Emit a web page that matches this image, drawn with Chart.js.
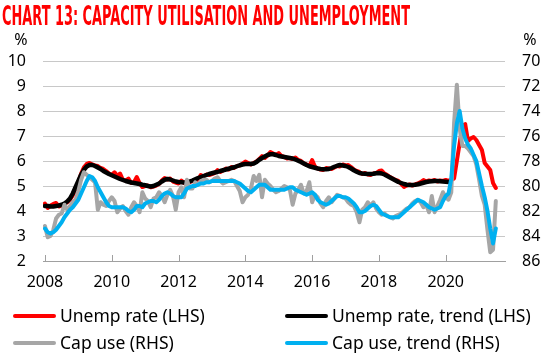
<!DOCTYPE html>
<html>
<head>
<meta charset="utf-8">
<script src="https://cdn.jsdelivr.net/npm/chart.js@4.4.1/dist/chart.umd.min.js"></script>
<style>
  html, body { margin: 0; padding: 0; background: #fff; }
  #wrap { position: relative; width: 550px; height: 354px; overflow: hidden; font-family: "Noto Sans", sans-serif; color: #000; }
  #chart { position: absolute; left: 0; top: 0; }
  #title { position: absolute; left: 2px; top: 2px; font-family: "DejaVu Sans Condensed", "DejaVu Sans", sans-serif; font-weight: bold; font-size: 27px; line-height: 27px; color: #ff0000; white-space: nowrap; transform-origin: 0 0; }
  .pct { position: absolute; top: 31px; width: 30px; text-align: center; font-size: 16px; line-height: 16px; }
  .swatch { position: absolute; width: 43px; height: 4px; border-radius: 2px; }
  .legtext { position: absolute; font-size: 17.5px; line-height: 20px; white-space: nowrap; }
</style>
</head>
<body>
<div id="wrap">
  <canvas id="chart" width="550" height="354"></canvas>
  <div id="title">CHART 13: CAPACITY UTILISATION AND UNEMPLOYMENT</div>
  <div class="pct" style="left:6px">%</div>
  <div class="pct" style="left:515px">%</div>
  <div id="legend"></div>
</div>
<script>
// monthly points, index 0 sits on the 2008 tick
const yearLabels = ["2008", "2010", "2012", "2014", "2016", "2018", "2020"];
const yearTickIndex = [0, 24, 48, 72, 96, 120, 144];

const unempRate = [
  4.30, 4.12, 4.22, 4.28, 4.32, 4.18, 4.22, 4.28, 4.35, 4.45, 4.62, 4.85,
  5.15, 5.50, 5.75, 5.88, 5.92, 5.86, 5.82, 5.80, 5.72, 5.68, 5.60, 5.50,
  5.45, 5.55, 5.40, 5.50, 5.25, 5.22, 5.30, 5.12, 5.15, 5.36, 5.12, 4.96,
  5.00, 5.02, 4.95, 4.98, 5.02, 5.08, 5.22, 5.32, 5.26, 5.30, 5.18, 5.14,
  5.10, 5.22, 5.12, 5.08, 5.15, 5.20, 5.24, 5.22, 5.44, 5.38, 5.46, 5.44,
  5.48, 5.52, 5.64, 5.56, 5.62, 5.70, 5.66, 5.76, 5.72, 5.80, 5.82, 5.90,
  5.98, 5.92, 5.86, 5.92, 5.98, 6.08, 6.20, 6.12, 6.22, 6.36, 6.30, 6.24,
  6.32, 6.20, 6.16, 6.10, 6.12, 6.08, 6.14, 6.04, 6.00, 5.90, 5.86, 5.80,
  6.04, 5.78, 5.70, 5.66, 5.64, 5.72, 5.70, 5.68, 5.74, 5.80, 5.78, 5.86,
  5.82, 5.84, 5.76, 5.66, 5.60, 5.56, 5.48, 5.52, 5.46, 5.44, 5.50, 5.52,
  5.60, 5.62, 5.50, 5.44, 5.36, 5.30, 5.24, 5.20, 5.08, 4.96, 5.02, 5.06,
  5.02, 5.06, 5.10, 5.16, 5.24, 5.18, 5.22, 5.20, 5.24, 5.18, 5.22, 5.20,
  5.24, 5.20, 5.24, 5.30, 6.00, 6.70, 7.40, 7.48, 6.80, 6.90, 6.96, 6.84,
  6.64, 6.44, 5.92, 5.78, 5.64, 5.12, 4.92
];

const unempTrend = [
  4.20, 4.20, 4.18, 4.18, 4.20, 4.22, 4.25, 4.30, 4.38, 4.50, 4.70, 4.95,
  5.20, 5.45, 5.65, 5.78, 5.84, 5.84, 5.80, 5.74, 5.68, 5.60, 5.54, 5.48,
  5.43, 5.38, 5.33, 5.28, 5.24, 5.20, 5.17, 5.14, 5.12, 5.10, 5.08, 5.05,
  5.03, 5.00, 4.98, 5.00, 5.05, 5.10, 5.18, 5.25, 5.28, 5.26, 5.22, 5.18,
  5.16, 5.15, 5.14, 5.15, 5.18, 5.22, 5.27, 5.32, 5.36, 5.40, 5.44, 5.48,
  5.51, 5.54, 5.56, 5.60, 5.63, 5.66, 5.69, 5.72, 5.75, 5.79, 5.83, 5.86,
  5.88, 5.88, 5.88, 5.90, 5.96, 6.05, 6.12, 6.18, 6.24, 6.27, 6.27, 6.24,
  6.20, 6.18, 6.16, 6.14, 6.12, 6.10, 6.06, 6.01, 5.96, 5.90, 5.84, 5.79,
  5.76, 5.73, 5.70, 5.68, 5.67, 5.67, 5.68, 5.72, 5.77, 5.81, 5.84, 5.82,
  5.80, 5.76, 5.70, 5.63, 5.57, 5.52, 5.50, 5.49, 5.48, 5.48, 5.49, 5.51,
  5.52, 5.50, 5.46, 5.40, 5.34, 5.28, 5.22, 5.16, 5.12, 5.08, 5.05, 5.04,
  5.04, 5.05, 5.07, 5.10, 5.13, 5.16, 5.18, 5.19, 5.20, 5.20, 5.19, 5.18,
  5.17, 5.16
];

const capUse = [
  83.2, 84.1, 84.0, 83.5, 82.6, 82.3, 82.2, 81.5, 81.9, 81.6, 81.3, 81.1,
  80.4, 79.5, 78.9, 79.1, 79.3, 79.5, 79.7, 81.9, 81.3, 81.5, 81.6, 81.2,
  80.9, 81.2, 82.1, 81.8, 81.6, 82.0, 82.3, 81.7, 81.3, 81.6, 82.1, 80.5,
  81.0, 81.2, 81.7, 81.0, 80.9, 80.5, 80.8, 81.3, 80.7, 80.3, 80.8, 81.9,
  80.5, 80.1, 80.9, 79.5, 80.2, 80.2, 79.7, 79.9, 79.6, 79.5, 79.5, 79.7,
  79.6, 79.4, 79.3, 79.6, 79.8, 79.7, 79.6, 79.5, 79.6, 80.0, 80.4, 81.3,
  80.9, 80.7, 80.2, 79.2, 79.6, 79.1, 80.9, 79.5, 79.8, 80.0, 80.3, 80.5,
  80.4, 80.2, 80.0, 80.1, 80.3, 81.5, 80.6, 80.3, 79.9, 80.6, 80.4, 79.7,
  81.3, 80.7, 80.9, 81.4, 81.7, 81.2, 80.9, 81.3, 81.0, 80.7, 80.8, 80.9,
  81.0, 81.3, 81.5, 81.6, 82.1, 82.9, 81.9, 81.7, 81.3, 81.6, 81.3, 81.8,
  82.1, 82.3, 82.2, 82.4, 82.5, 82.6, 82.4, 82.3, 82.2, 82.0, 81.8, 81.7,
  81.4, 81.2, 81.1, 81.3, 81.7, 81.5, 82.1, 80.8, 82.1, 81.6, 81.1, 80.5,
  80.9, 81.1, 80.5, 75.0, 71.9, 75.4, 76.8, 76.8, 77.0, 77.3, 77.6, 78.3,
  79.5, 80.8, 81.5, 83.5, 85.3, 85.1, 81.2
];

const capTrend = [
  83.4, 83.7, 83.8, 83.7, 83.5, 83.2, 82.9, 82.5, 82.2, 81.9, 81.7, 81.4,
  81.1, 80.6, 80.1, 79.6, 79.2, 79.3, 79.6, 80.1, 80.5, 80.9, 81.3, 81.6,
  81.7, 81.7, 81.7, 81.7, 81.7, 81.8, 82.0, 82.1, 81.9, 81.6, 81.6, 81.7,
  81.4, 81.3, 81.2, 81.2, 81.3, 81.1, 80.8, 80.6, 80.5, 80.6, 80.8, 80.9,
  80.9, 80.9, 80.6, 80.2, 80.1, 80.0, 80.0, 79.9, 79.8, 79.8, 79.7, 79.7,
  79.6, 79.6, 79.6, 79.6, 79.6, 79.6, 79.6, 79.6, 79.6, 79.7, 79.8, 80.0,
  80.2, 80.4, 80.5, 80.3, 80.1, 79.9, 79.9, 79.9, 80.1, 80.3, 80.3, 80.3,
  80.3, 80.3, 80.3, 80.2, 80.1, 80.1, 80.3, 80.4, 80.5, 80.6, 80.7, 80.6,
  80.5, 80.7, 81.1, 81.3, 81.4, 81.5, 81.4, 81.2, 81.0, 80.8, 80.8, 80.9,
  80.9, 81.0, 81.2, 81.4, 81.7, 82.1, 82.1, 82.0, 81.8, 81.6, 81.5, 81.6,
  81.9, 82.2, 82.3, 82.4, 82.5, 82.5, 82.5, 82.5, 82.3, 82.1, 81.9, 81.7,
  81.5, 81.3, 81.1, 81.2, 81.3, 81.5, 81.7, 81.8, 81.9, 81.8, 81.7, 81.2,
  80.8, 80.6, 79.4, 76.8, 75.0, 74.0, 75.4, 76.2, 76.7, 77.0, 77.5, 78.0,
  79.0, 80.0, 80.9, 82.0, 83.4, 84.6, 83.4
];

const tickFont = { family: "Noto Sans", size: 16 };
const gridColor = "#c8c8c8";

function points(values) {
  return values.map((v, i) => ({ x: i, y: v }));
}

// small tick marks standing up from the date axis
const xTickMarks = {
  id: "xTickMarks",
  beforeDatasetsDraw(chart) {
    const { ctx, chartArea } = chart;
    const x = chart.scales.x;
    ctx.save();
    ctx.strokeStyle = "#a0a0a0";
    ctx.lineWidth = 1;
    yearTickIndex.forEach((v) => {
      const px = Math.round(x.getPixelForValue(v)) + 0.5;
      ctx.beginPath();
      ctx.moveTo(px, chartArea.bottom);
      ctx.lineTo(px, chartArea.bottom - 6);
      ctx.stroke();
    });
    ctx.restore();
  },
};

const lineStyle = {
  borderWidth: 4,
  pointRadius: 0,
  tension: 0,
  fill: false,
  borderJoinStyle: "round",
  borderCapStyle: "round",
};

const chart = new Chart(document.getElementById("chart"), {
  type: "line",
  data: {
    datasets: [
      { ...lineStyle, label: "Unemp rate (LHS)", data: points(unempRate), yAxisID: "y", borderColor: "#ff0000", order: 4 },
      { ...lineStyle, label: "Unemp rate, trend (LHS)", data: points(unempTrend), yAxisID: "y", borderColor: "#000000", borderWidth: 4.5, order: 3 },
      { ...lineStyle, label: "Cap use (RHS)", data: points(capUse), yAxisID: "y1", borderColor: "#a6a6a6", order: 2 },
      { ...lineStyle, label: "Cap use, trend (RHS)", data: points(capTrend), yAxisID: "y1", borderColor: "#00b0f0", order: 1 },
    ],
  },
  options: {
    responsive: false,
    animation: false,
    events: [],
    layout: { padding: { top: 61, left: 0, right: 0, bottom: 63 } },
    plugins: { legend: { display: false }, tooltip: { enabled: false } },
    scales: {
      x: {
        type: "linear",
        min: -0.7,
        max: 165.3,
        grid: { display: false, drawTicks: false },
        border: { display: true, color: "#a0a0a0" },
        afterBuildTicks: (s) => { s.ticks = yearTickIndex.map((v) => ({ value: v })); },
        afterFit: (s) => { s.height = 30; },
        ticks: {
          autoSkip: false,
          maxRotation: 0,
          padding: 12,
          color: "#000",
          font: tickFont,
          callback: (v) => yearLabels[yearTickIndex.indexOf(v)],
        },
      },
      y: {
        position: "left",
        min: 2,
        max: 10,
        grid: { color: gridColor, drawTicks: false },
        border: { display: false },
        afterFit: (s) => { s.width = 43; },
        ticks: { stepSize: 1, padding: 17, color: "#000", font: tickFont },
      },
      y1: {
        position: "right",
        min: 70,
        max: 86,
        reverse: true,
        grid: { display: false, drawTicks: false },
        border: { display: false },
        afterFit: (s) => { s.width = 45; },
        ticks: { stepSize: 2, padding: 17, color: "#000", font: tickFont },
      },
    },
  },
  plugins: [xTickMarks],
});

// two-column legend under the chart
const legendSpots = [[13, 316], [285, 316], [13, 343], [285, 343]];
const legend = document.getElementById("legend");
chart.data.datasets.forEach((ds, i) => {
  const [lx, ly] = legendSpots[i];
  const sw = document.createElement("div");
  sw.className = "swatch";
  sw.style.left = lx + "px";
  sw.style.top = (ly - 2) + "px";
  sw.style.background = ds.borderColor;
  legend.appendChild(sw);
  const tx = document.createElement("div");
  tx.className = "legtext";
  tx.style.left = (lx + 47) + "px";
  tx.style.top = (ly - 11) + "px";
  tx.textContent = ds.label;
  legend.appendChild(tx);
});

function fitTitle() {
  const t = document.getElementById("title");
  t.style.transform = "none";
  const w = t.getBoundingClientRect().width;
  t.style.transform = "scaleX(" + (408 / w) + ")";
}
fitTitle();
if (document.fonts) document.fonts.ready.then(fitTitle);
</script>
</body>
</html>
